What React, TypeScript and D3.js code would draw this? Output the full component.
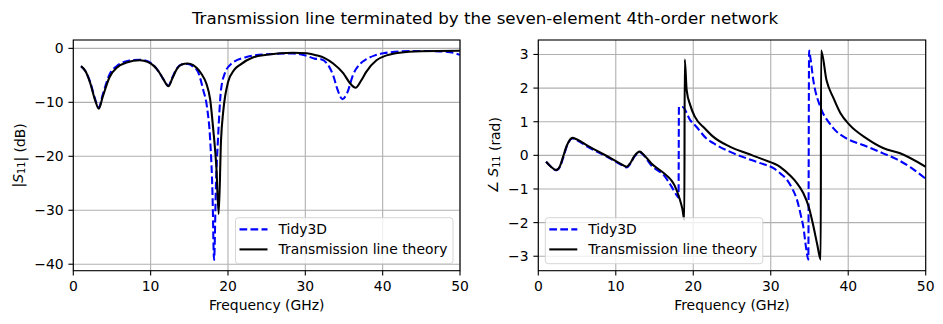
import React from 'react';
import * as d3 from 'd3';

const freqTicks = [0, 10, 20, 30, 40, 50];
const magTicks = [0, -10, -20, -30, -40];
const phaseTicks = [3, 2, 1, 0, -1, -2, -3];
const seriesNames = ['Tidy3D', 'Transmission line theory'];
const titleText = 'Transmission line terminated by the seven-element 4th-order network';

// |S11| in dB, [frequency GHz, value]
const tidyMag: [number, number][] = [
  [1.0, -3.3], [1.6, -4.3], [2.2, -6.3], [2.8, -9.3], [3.3, -11.0], [3.8, -8.6], [4.7, -4.8],
  [5.7, -3.2], [6.9, -2.4], [8.6, -2.1], [9.6, -2.4], [10.3, -3.0], [11.0, -4.2], [11.6, -5.6],
  [12.3, -6.9], [12.8, -5.4], [13.4, -3.7], [14.0, -3.0], [14.8, -2.9], [15.5, -3.4], [16.1, -4.3],
  [16.8, -7.7], [17.3, -11], [17.7, -17], [18.0, -27], [18.2, -39.2], [18.45, -25], [18.7, -17],
  [19.1, -7.7], [19.6, -4.6], [20.4, -2.9], [22.4, -1.6], [25, -1.1], [28.4, -0.95], [30.2, -1.4],
  [31.2, -1.9], [32.0, -2.0], [32.8, -2.8], [33.6, -5.0], [34.2, -7.8], [34.8, -9.4], [35.4, -8.3],
  [36.2, -4.8], [37.0, -3.0], [37.9, -2.0], [39.0, -1.3], [40.1, -0.9], [43.5, -0.5], [46, -0.5],
  [48.7, -0.7], [50, -1.2],
];
const theoryMag: [number, number][] = [
  [1.0, -3.3], [1.6, -4.3], [2.2, -6.5], [2.8, -9.5], [3.3, -11.2], [3.8, -9.0], [4.7, -5.3],
  [5.7, -3.5], [6.9, -2.6], [8.6, -2.2], [9.6, -2.5], [10.3, -3.1], [11.0, -4.2], [11.6, -5.6],
  [12.3, -7.0], [12.8, -5.6], [13.4, -3.8], [14.0, -3.0], [14.8, -2.8], [15.5, -3.1], [16.0, -3.7],
  [16.6, -4.8], [17.2, -6.5], [17.7, -9.5], [18.1, -15.1], [18.5, -22], [18.8, -30.7], [19.1, -17],
  [19.4, -11.5], [20.0, -6.3], [20.8, -4.0], [21.6, -3.0], [23.2, -1.7], [25.0, -1.2], [28.4, -0.8],
  [30.2, -0.9], [31.5, -1.3], [32.5, -1.8], [33.6, -2.8], [34.9, -4.6], [35.8, -6.5], [36.5, -7.3],
  [37.2, -6.0], [37.9, -4.3], [39.2, -2.2], [40.5, -1.3], [42.2, -0.8], [45, -0.55], [50, -0.45],
];

// angle S11 in rad, [frequency GHz, value]
const tidyPhase: [number, number][] = [
  [1.0, -0.19], [1.6, -0.33], [2.3, -0.44], [2.8, -0.34], [3.2, -0.08], [3.7, 0.28], [4.4, 0.5],
  [5.0, 0.45], [6.4, 0.25], [8.6, -0.01], [10.7, -0.28], [11.4, -0.36], [11.9, -0.24], [12.4, -0.04],
  [13.1, 0.09], [13.6, 0.0], [14.6, -0.3], [16.3, -0.62], [17.2, -0.93], [17.9, -1.2], [18.1, -1.25],
  [18.15, 1.44], [18.6, 1.44], [19.6, 1.05], [20.4, 0.85], [21.7, 0.5], [22.6, 0.36], [24.7, 0.11],
  [26.9, -0.09], [28.5, -0.22], [30.4, -0.39], [31.3, -0.55], [32.1, -0.73], [32.8, -1.0],
  [33.4, -1.33], [33.9, -1.8], [34.2, -2.12], [34.6, -2.81], [34.85, -3.1], [34.95, 3.12],
  [35.1, 2.93], [35.5, 2.23], [36.4, 1.44], [37.6, 0.95], [38.1, 0.8], [39.8, 0.5], [42, 0.3],
  [44.5, 0.06], [46.3, -0.12], [48, -0.35], [50, -0.7],
];
const theoryPhase: [number, number][] = [
  [1.0, -0.19], [1.6, -0.33], [2.3, -0.44], [2.8, -0.32], [3.2, -0.04], [3.7, 0.3], [4.4, 0.52],
  [5.0, 0.47], [6.4, 0.28], [8.6, 0.01], [10.7, -0.26], [11.4, -0.34], [11.9, -0.22], [12.4, -0.02],
  [13.1, 0.11], [13.6, 0.02], [14.6, -0.24], [16.3, -0.55], [17.2, -0.75], [17.6, -0.9],
  [18.25, -1.3], [18.6, -1.6], [18.85, -1.92], [18.9, 2.85], [19.15, 1.94], [19.6, 1.5],
  [20.2, 1.15], [21.5, 0.8], [22.6, 0.55], [24.7, 0.26], [26.9, 0.06], [29.0, -0.12],
  [31.2, -0.34], [32.5, -0.6], [33.4, -0.83], [34.2, -1.12], [34.9, -1.53], [35.5, -2.1],
  [36.0, -2.65], [36.45, -3.1], [36.5, 3.12], [37.2, 2.23], [38.1, 1.7], [39.0, 1.25],
  [40.2, 0.9], [42.4, 0.5], [44.5, 0.22], [46.7, 0.06], [50, -0.34],
];

const FONT = 'DejaVu Sans, sans-serif';
const FS = 13.9;
const fmt = (d: number) => String(d).replace('-', '\u2212');

type Pt = [number, number];

function Panel(props: {
  id: string;
  x0: number; x1: number; y0: number; y1: number;
  yDomain: [number, number];
  yTicks: number[];
  tidy: Pt[]; theory: Pt[];
  legendSide: 'left' | 'right';
  ylabelX: number;
  ylabel: React.ReactNode;
}) {
  const { x0, x1, y0, y1 } = props;
  const x = d3.scaleLinear().domain([0, 50]).range([x0, x1]);
  const y = d3.scaleLinear().domain(props.yDomain).range([y1, y0]);
  const line = d3.line<Pt>().x(d => x(d[0])).y(d => y(d[1])).curve(d3.curveMonotoneX);
  const lw = 2.08;
  const legW = 217.5, legH = 46;
  const legX = props.legendSide === 'right' ? x1 - 7 - legW : x0 + 7;
  const legY = y1 - 7 - legH;
  return (
    <g>
      <defs>
        <clipPath id={props.id}>
          <rect x={x0} y={y0} width={x1 - x0} height={y1 - y0} />
        </clipPath>
      </defs>
      {freqTicks.map(t => (
        <line key={'gx' + t} x1={x(t)} x2={x(t)} y1={y0} y2={y1} stroke="#b0b0b0" strokeWidth={1.11} />
      ))}
      {props.yTicks.map(t => (
        <line key={'gy' + t} x1={x0} x2={x1} y1={y(t)} y2={y(t)} stroke="#b0b0b0" strokeWidth={1.11} />
      ))}
      <g clipPath={`url(#${props.id})`}>
        <path d={line(props.tidy) || ''} fill="none" stroke="#0000ff" strokeWidth={lw} strokeDasharray="7.7 3.3" />
        <path d={line(props.theory) || ''} fill="none" stroke="#000000" strokeWidth={lw} />
      </g>
      <rect x={x0} y={y0} width={x1 - x0} height={y1 - y0} fill="none" stroke="#000" strokeWidth={1.11} />
      {freqTicks.map(t => (
        <g key={'tx' + t}>
          <line x1={x(t)} x2={x(t)} y1={y1} y2={y1 + 4.9} stroke="#000" strokeWidth={1.11} />
          <text x={x(t)} y={y1 + 9.7} dy="0.76em" textAnchor="middle" fontSize={FS} fontFamily={FONT}>{fmt(t)}</text>
        </g>
      ))}
      {props.yTicks.map(t => (
        <g key={'ty' + t}>
          <line x1={x0 - 4.9} x2={x0} y1={y(t)} y2={y(t)} stroke="#000" strokeWidth={1.11} />
          <text x={x0 - 9.7} y={y(t)} dy="0.36em" textAnchor="end" fontSize={FS} fontFamily={FONT}>{fmt(t)}</text>
        </g>
      ))}
      <text x={(x0 + x1) / 2} y={y1 + 39} textAnchor="middle" fontSize={FS} fontFamily={FONT}>Frequency (GHz)</text>
      <g transform={`translate(${props.ylabelX},${(y0 + y1) / 2}) rotate(-90)`}>
        <text x={0} y={0} dy="0.36em" textAnchor="middle" fontSize={FS} fontFamily={FONT}>{props.ylabel}</text>
      </g>
      <rect x={legX} y={legY} width={legW} height={legH} rx={3} ry={3} fill="#fff" fillOpacity={0.8} stroke="#cccccc" strokeOpacity={0.8} strokeWidth={1} />
      <line x1={legX + 4} x2={legX + 32} y1={legY + 11.7} y2={legY + 11.7} stroke="#0000ff" strokeWidth={lw} strokeDasharray="7.7 3.3" />
      <text x={legX + 43} y={legY + 11.7} dy="0.36em" fontSize={FS} fontFamily={FONT}>{seriesNames[0]}</text>
      <line x1={legX + 4} x2={legX + 32} y1={legY + 31.7} y2={legY + 31.7} stroke="#000" strokeWidth={lw} />
      <text x={legX + 43} y={legY + 31.7} dy="0.36em" fontSize={FS} fontFamily={FONT}>{seriesNames[1]}</text>
    </g>
  );
}

function S11() {
  return (
    <>
      <tspan fontStyle="italic">S</tspan>
      <tspan fontSize={FS * 0.7} dy="0.25em">11</tspan>
      <tspan dy="-0.18em">{''}</tspan>
    </>
  );
}

export default function App() {
  const W = 943, H = 324;
  const y0 = 40, y1 = 270.7;
  return (
    <svg width={W} height={H} style={{ position: 'absolute', left: 0, top: 0, background: '#fff' }}>
      <rect width={W} height={H} fill="#fff" />
      <text x={485} y={18} dy="0.36em" textAnchor="middle" fontSize={16.7} fontFamily={FONT}>{titleText}</text>
      <Panel id="clipL" x0={73.3} x1={460} y0={y0} y1={y1} yDomain={[-41.2, 1.55]} yTicks={magTicks}
        tidy={tidyMag} theory={theoryMag} legendSide="right" ylabelX={18}
        ylabel={<>|<S11 />| (dB)</>} />
      <Panel id="clipR" x0={538.3} x1={925.7} y0={y0} y1={y1} yDomain={[-3.43, 3.43]} yTicks={phaseTicks}
        tidy={tidyPhase} theory={theoryPhase} legendSide="left" ylabelX={493}
        ylabel={<>∠ <S11 /> (rad)</>} />
    </svg>
  );
}
